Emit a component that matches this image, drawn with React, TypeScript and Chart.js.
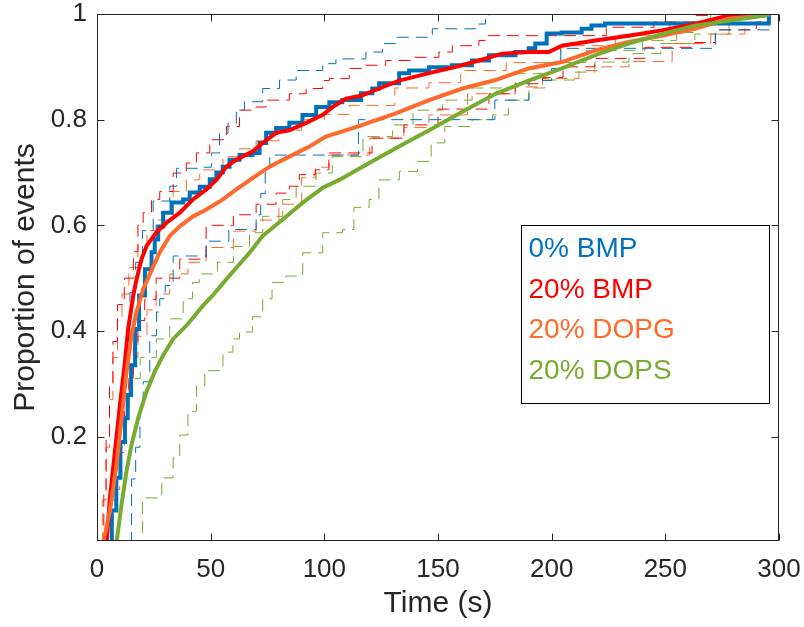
import React, { useEffect, useRef } from 'react';
import { Chart, registerables } from 'chart.js';

Chart.register(...registerables);

// ---- axis ticks ----
const xTicks = [0, 50, 100, 150, 200, 250, 300];
const yTicks = [0.2, 0.4, 0.6, 0.8, 1];

// ---- series names & colours ----
const seriesNames = ['0% BMP', '20% BMP', '20% DOPG', '20% DOPS'];
const seriesColors = ['#0072BD', '#FF0000', '#FF6929', '#77AC30'];

// ---- empirical CDFs (time s, proportion) ----
const bmp0: [number, number][] = [
  [5.5, 0], [6.5, 0.06], [8.5, 0.122], [10.3, 0.19], [12.3, 0.235], [13.5, 0.279], [15, 0.335],
  [16.8, 0.404], [18.5, 0.467], [21.1, 0.517], [24, 0.549], [25.4, 0.573], [26.9, 0.598],
  [29.1, 0.624], [32.8, 0.643], [37.9, 0.649], [40.8, 0.662], [45.2, 0.673], [49.6, 0.687],
  [52.5, 0.7], [55.3, 0.711], [58.3, 0.724], [62.7, 0.733], [68.4, 0.737], [71.5, 0.756],
  [74.4, 0.775], [78.8, 0.784], [84.6, 0.794], [90.4, 0.809], [96.4, 0.824], [102.2, 0.833],
  [107.9, 0.837], [116.1, 0.85], [121.1, 0.859], [124.1, 0.869], [132.9, 0.888], [137.3, 0.893],
  [146.1, 0.899], [156.1, 0.903], [164.9, 0.912], [172.4, 0.922], [184.1, 0.928], [189.9, 0.935],
  [192.8, 0.944], [197.8, 0.963], [204.4, 0.965], [213.2, 0.972], [217.5, 0.978], [223.5, 0.982],
  [295.5, 1], [296, 1],
];
const bmp20: [number, number][] = [
  [4.2, 0], [5.7, 0.084], [7.9, 0.173], [10.1, 0.26], [12.3, 0.342], [13.7, 0.404], [15.9, 0.466],
  [17.4, 0.498], [19.6, 0.536], [21.8, 0.561], [26.2, 0.587], [30.6, 0.605], [36.4, 0.624],
  [42.2, 0.649], [48.1, 0.668], [52.5, 0.686], [56.9, 0.711], [61.3, 0.724], [68.6, 0.74],
  [72.9, 0.756], [78.8, 0.775], [84.6, 0.78], [92, 0.794], [99.3, 0.809], [104, 0.825],
  [109.5, 0.84], [116.7, 0.846], [124.1, 0.859], [132.9, 0.874], [146.1, 0.888], [157.8, 0.9],
  [168, 0.912], [178.2, 0.925], [189.9, 0.928], [198.7, 0.928], [204.5, 0.94], [219.2, 0.95],
  [233.8, 0.959], [248.4, 0.969], [263, 0.981], [274.7, 0.994], [280.5, 0.997], [296, 1],
];
const dopg20: [number, number][] = [
  [2.8, 0], [5.7, 0.06], [8.6, 0.147], [10.8, 0.235], [13, 0.323], [15.2, 0.392], [17.4, 0.436],
  [20.3, 0.479], [22.5, 0.5], [24, 0.515], [27.6, 0.549], [32, 0.58], [36.4, 0.598], [42.2, 0.617],
  [48.1, 0.63], [55.4, 0.649], [61.3, 0.668], [68.6, 0.69], [75.9, 0.711], [84.6, 0.73],
  [93.4, 0.749], [100.7, 0.768], [106.6, 0.776], [116.8, 0.79], [131.4, 0.812], [146.1, 0.837],
  [160.7, 0.859], [175.3, 0.875], [189.9, 0.897], [204.5, 0.909], [219.2, 0.931], [233.8, 0.947],
  [248.4, 0.959], [263, 0.972], [277.6, 0.991], [293.7, 0.997], [296, 1],
];
const dops20: [number, number][] = [
  [8.6, 0], [10.8, 0.072], [13, 0.135], [15.2, 0.185], [18.1, 0.235], [21.8, 0.285], [25.4, 0.323],
  [29.1, 0.354], [33.5, 0.385], [39.3, 0.41], [46.6, 0.448], [51, 0.468], [58.3, 0.505],
  [67.1, 0.548], [72.9, 0.58], [81.7, 0.611], [90.5, 0.643], [99.3, 0.671], [106.6, 0.686],
  [116.8, 0.711], [131.4, 0.746], [146.1, 0.78], [160.7, 0.815], [175.3, 0.849], [189.9, 0.874],
  [204.5, 0.897], [219.2, 0.922], [233.8, 0.944], [248.4, 0.962], [263, 0.978], [277.6, 0.987],
  [293.7, 0.997], [296, 1],
];

// ---- confidence bounds (dashed) ----
const bmp0Hi: [number, number][] = [
  [3, 0], [5, 0.08], [7, 0.16], [9, 0.24], [11, 0.31], [13, 0.38], [14.5, 0.473], [17, 0.53],
  [20, 0.59], [24.7, 0.646], [32, 0.674], [35, 0.708], [45.2, 0.71], [50.3, 0.737], [53.9, 0.774],
  [57.6, 0.793], [61.3, 0.818], [64.9, 0.834], [72.9, 0.859], [80.3, 0.875], [87.6, 0.893],
  [99.3, 0.906], [105.1, 0.915], [118.3, 0.928], [125.6, 0.944], [131.4, 0.956], [147.5, 0.972],
  [166.5, 0.981], [170.9, 0.991], [172.4, 1], [300, 1],
];
const bmp0Lo: [number, number][] = [
  [14.5, 0], [15.2, 0.12], [17, 0.18], [18.9, 0.254], [20.3, 0.304], [23.2, 0.391], [26.2, 0.436],
  [27.6, 0.461], [30, 0.486], [33.5, 0.542], [48, 0.57], [58, 0.592], [70, 0.62], [72, 0.66],
  [74, 0.7], [76, 0.733], [115, 0.8], [175, 0.837], [190, 0.874], [200, 0.897], [204, 0.935],
  [272, 0.97], [296, 1],
];
const bmp20Hi: [number, number][] = [
  [2, 0], [3, 0.1], [4, 0.2], [5.5, 0.3], [7, 0.38], [9, 0.45], [12, 0.5], [16, 0.55], [18, 0.6],
  [20.3, 0.624], [24, 0.649], [27.6, 0.664], [33.5, 0.699], [39.3, 0.718], [43.7, 0.737],
  [49.6, 0.762], [56.9, 0.787], [62.7, 0.818], [70, 0.824], [74.4, 0.837], [84.6, 0.849],
  [92, 0.859], [99.3, 0.874], [102.2, 0.878], [111, 0.897], [116.8, 0.903], [127, 0.912],
  [138.7, 0.918], [150.4, 0.928], [156.3, 0.94], [168, 0.95], [170.9, 0.959], [224, 0.975],
  [245, 0.985], [263, 0.997], [270, 1], [296, 1],
];
const bmp20Lo: [number, number][] = [
  [6, 0], [7, 0.06], [8.5, 0.12], [10, 0.18], [12, 0.25], [14, 0.31], [16, 0.37], [18, 0.42],
  [21, 0.46], [26, 0.5], [36.4, 0.536], [48, 0.6], [60, 0.62], [70, 0.64], [78.8, 0.661],
  [84.6, 0.674], [89, 0.696], [96, 0.705], [102, 0.737], [121, 0.765], [135, 0.79], [150, 0.82],
  [172.4, 0.849], [184, 0.868], [196, 0.88], [205, 0.9], [219, 0.916], [241, 0.937], [263, 0.946],
  [272, 0.97], [290, 0.985], [296, 1],
];
const dopg20Hi: [number, number][] = [
  [1.5, 0], [2.5, 0.08], [4, 0.18], [5.5, 0.27], [7, 0.35], [9, 0.42], [11, 0.47], [14, 0.52],
  [18, 0.56], [22, 0.59], [26, 0.61], [33.5, 0.664], [39.3, 0.686], [45.2, 0.705], [55.4, 0.73],
  [62.7, 0.745], [70, 0.76], [80, 0.78], [90, 0.8], [100, 0.81], [111, 0.827], [131, 0.86],
  [146, 0.87], [160, 0.893], [180, 0.908], [204, 0.94], [228, 0.96], [252, 0.98], [270, 1], [296, 1],
];
const dopg20Lo: [number, number][] = [
  [4.5, 0], [6, 0.05], [8, 0.1], [10, 0.17], [12, 0.24], [14, 0.3], [16, 0.35], [18, 0.39],
  [22, 0.44], [26, 0.47], [32, 0.508], [40, 0.53], [48, 0.558], [60, 0.589], [70, 0.61],
  [80, 0.64], [90, 0.69], [96, 0.71], [102, 0.733], [120, 0.765], [135, 0.785], [146, 0.809],
  [163, 0.849], [184, 0.862], [196, 0.878], [212, 0.893], [222, 0.9], [234, 0.91], [253, 0.944],
  [270, 0.962], [285, 0.98], [296, 1],
];
const dops20Hi: [number, number][] = [
  [5, 0], [6.5, 0.08], [8, 0.15], [10, 0.22], [12, 0.27], [15, 0.31], [19, 0.35], [26.1, 0.385],
  [32, 0.423], [37.9, 0.461], [42, 0.492], [45, 0.508], [53, 0.53], [60, 0.56], [67.1, 0.586],
  [72.9, 0.617], [81.7, 0.649], [87.6, 0.674], [96.4, 0.699], [103.5, 0.73], [117, 0.768],
  [130, 0.79], [139, 0.818], [152, 0.837], [165, 0.86], [184, 0.887], [197, 0.908], [215, 0.931],
  [240, 0.95], [255, 0.965], [263, 0.98], [270, 1], [296, 1],
];
const dops20Lo: [number, number][] = [
  [15.8, 0], [20, 0.084], [28.5, 0.122], [33.5, 0.16], [36.4, 0.203], [40, 0.248], [43.8, 0.297],
  [47.4, 0.325], [55.4, 0.36], [59.8, 0.385], [62.7, 0.398], [68.4, 0.427], [72.9, 0.461],
  [77, 0.492], [83.2, 0.504], [90.5, 0.548], [99.3, 0.586], [108, 0.592], [113, 0.634],
  [119.7, 0.649], [124, 0.686], [133, 0.702], [141, 0.721], [147, 0.756], [153, 0.787], [165, 0.8],
  [174, 0.809], [181, 0.837], [190, 0.86], [197, 0.875], [210, 0.89], [219, 0.909], [234, 0.925],
  [248, 0.944], [263, 0.962], [278, 0.98], [296, 1],
];

const solidSeries = [bmp0, bmp20, dopg20, dops20];
const solidStepped: (false | 'before')[] = ['before', false, false, false];
const boundSeries = [
  [bmp0Hi, bmp0Lo],
  [bmp20Hi, bmp20Lo],
  [dopg20Hi, dopg20Lo],
  [dops20Hi, dops20Lo],
];

const FONT = '"Liberation Sans", Arial, Helvetica, sans-serif';
const AXIS_COLOR = '#262626';

const toXY = (pts: [number, number][]) => pts.map(([x, y]) => ({ x, y }));

const zeroPadding = (s: any) => {
  s.paddingLeft = 0;
  s.paddingRight = 0;
  s.paddingTop = 0;
  s.paddingBottom = 0;
};

const framePlugin = {
  id: 'matlabFrame',
  afterDatasetsDraw(chart: any) {
    const { ctx, chartArea: a, scales } = chart;
    const L = Math.round(a.left) + 0.5;
    const R = Math.round(a.right) - 0.5;
    const T = Math.round(a.top) + 0.5;
    const B = Math.round(a.bottom) - 0.5;
    const tl = 7;
    ctx.save();
    ctx.strokeStyle = AXIS_COLOR;
    ctx.lineWidth = 1;
    ctx.strokeRect(L, T, R - L, B - T);
    ctx.beginPath();
    xTicks.forEach((v) => {
      const px = Math.round(scales.x.getPixelForValue(v)) + 0.5;
      ctx.moveTo(px, B);
      ctx.lineTo(px, B - tl);
      ctx.moveTo(px, T);
      ctx.lineTo(px, T + tl);
    });
    yTicks.forEach((v) => {
      const py = Math.round(scales.y.getPixelForValue(v)) + 0.5;
      ctx.moveTo(L, py);
      ctx.lineTo(L + tl, py);
      ctx.moveTo(R, py);
      ctx.lineTo(R - tl, py);
    });
    ctx.stroke();
    ctx.restore();
  },
};

const legendPlugin = {
  id: 'boxLegend',
  afterDraw(chart: any) {
    const { ctx, chartArea: a } = chart;
    const left = Math.round(a.left + 424) + 0.5;
    const top = Math.round(a.top + 211) + 0.5;
    const w = 248;
    const h = 178;
    ctx.save();
    ctx.fillStyle = '#ffffff';
    ctx.fillRect(left, top, w, h);
    ctx.strokeStyle = '#000000';
    ctx.lineWidth = 1;
    ctx.strokeRect(left, top, w, h);
    ctx.font = `28px ${FONT}`;
    ctx.textBaseline = 'middle';
    ctx.textAlign = 'left';
    const entries = chart.data.datasets.filter((d: any) => d.isMain);
    entries.forEach((d: any, i: number) => {
      ctx.fillStyle = d.borderColor;
      ctx.fillText(d.label, left + 7, top + 24 + i * 40.5);
    });
    ctx.restore();
  },
};

export default function App() {
  const ref = useRef<HTMLCanvasElement | null>(null);

  useEffect(() => {
    if (!ref.current) return;
    const datasets: any[] = [];
    boundSeries.forEach((pair, i) => {
      pair.forEach((pts, j) => {
        datasets.push({
          label: `${seriesNames[i]} ${j === 0 ? 'upper' : 'lower'}`,
          data: toXY(pts),
          borderColor: seriesColors[i],
          borderWidth: 1,
          borderDash: [12, 7],
          stepped: 'before',
          pointRadius: 0,
          fill: false,
          order: 20 + i,
          isMain: false,
        });
      });
    });
    solidSeries.forEach((pts, i) => {
      datasets.push({
        label: seriesNames[i],
        data: toXY(pts),
        borderColor: seriesColors[i],
        borderWidth: 4,
        stepped: solidStepped[i],
        pointRadius: 0,
        fill: false,
        order: 10 - i,
        isMain: true,
      });
    });

    const chart = new Chart(ref.current, {
      type: 'line',
      data: { datasets },
      options: {
        responsive: false,
        animation: false,
        devicePixelRatio: 1,
        layout: { padding: { top: 14, right: 25, bottom: 0, left: 0 } },
        plugins: { legend: { display: false }, tooltip: { enabled: false } },
        elements: { point: { radius: 0 }, line: { tension: 0 } },
        scales: {
          x: {
            type: 'linear',
            min: 0,
            max: 300,
            grid: { display: false, drawTicks: false },
            border: { display: false },
            afterBuildTicks: (s: any) => {
              s.ticks = xTicks.map((v) => ({ value: v }));
            },
            afterFit: (s: any) => {
              s.height = 86;
              zeroPadding(s);
            },
            ticks: {
              autoSkip: false,
              maxRotation: 0,
              padding: 13,
              color: AXIS_COLOR,
              font: { family: FONT, size: 26 },
              callback: (v: any) => String(v),
            },
            title: {
              display: true,
              text: 'Time (s)',
              color: AXIS_COLOR,
              font: { family: FONT, size: 30 },
              padding: { top: 0, bottom: 5 },
            },
          },
          y: {
            type: 'linear',
            min: 0.0025,
            max: 1,
            grid: { display: false, drawTicks: false },
            border: { display: false },
            afterBuildTicks: (s: any) => {
              s.ticks = yTicks.map((v) => ({ value: v }));
            },
            afterFit: (s: any) => {
              s.width = 97;
              zeroPadding(s);
            },
            ticks: {
              autoSkip: false,
              padding: 10,
              color: AXIS_COLOR,
              font: { family: FONT, size: 26 },
              callback: (v: any) => String(v),
            },
            title: {
              display: true,
              text: 'Proportion of events',
              color: AXIS_COLOR,
              font: { family: FONT, size: 30 },
              padding: { top: 8, bottom: 0 },
            },
          },
        },
      } as any,
      plugins: [framePlugin, legendPlugin],
    });
    return () => chart.destroy();
  }, []);

  return (
    <div style={{ position: 'absolute', left: 0, top: 0, width: 804, height: 627, background: '#fff' }}>
      <canvas ref={ref} width={804} height={627} style={{ display: 'block' }} />
    </div>
  );
}
